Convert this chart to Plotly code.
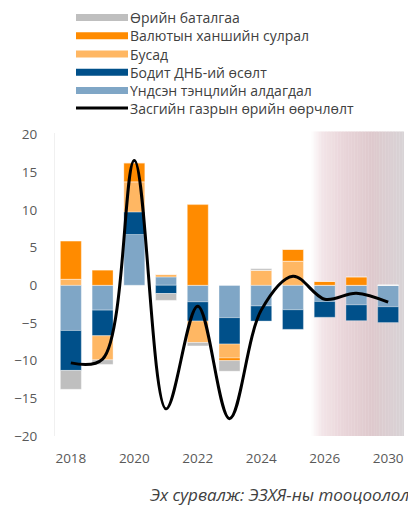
import plotly.graph_objects as go

years = ["2018", "2019", "2020", "2021", "2022", "2023", "2024", "2025", "2026", "2027", "2030"]

# Components (percentage points), stacked in this order from zero
undsen_tentsel = [-6.0, -3.3, 6.73, 1.1, -2.2, -4.3, -2.75, -3.25, -2.15, -2.6, -2.85]   # Үндсэн тэнцлийн алдагдал
bodit_dnb = [-5.3, -3.4, 3.0, -1.1, -2.55, -3.5, -2.0, -2.6, -2.1, -2.1, -2.1]           # Бодит ДНБ-ий өсөлт
busad_pos = [0.8, 0.0, 4.0, 0.35, 0.0, 0.0, 2.0, 3.2, 0.0, 0.0, 0.0]                     # Бусад (+)
busad_neg = [0.0, -3.2, 0.0, 0.0, -2.85, -1.85, 0.0, 0.0, 0.0, 0.0, 0.0]                 # Бусад (-)
valyut = [5.06, 2.0, 2.5, 0.0, 10.7, -0.35, 0.0, 1.55, 0.5, 1.1, 0.0]                    # Валютын ханшийн сулрал
oriin_batalgaa = [-2.5, -0.6, 0.0, -0.9, -0.45, -1.4, 0.2, 0.0, 0.0, 0.0, 0.0]          # Өрийн баталгаа

# Total change in government debt
debt_change = [-10.3, -9.8, 16.56, -16.4, -2.79, -17.7, -3.3, 1.2, -1.85, -1.05, -2.25]

names = ["Өрийн баталгаа", "Валютын ханшийн сулрал", "Бусад", "Бодит ДНБ-ий өсөлт",
         "Үндсэн тэнцлийн алдагдал", "Засгийн газрын өрийн өөрчлөлт"]

C_GRAY = "#bfbfbf"
C_ORANGE = "#ff8b00"
C_LORANGE = "#ffb763"
C_DBLUE = "#00508a"
C_LBLUE = "#7fa6c6"

# figure geometry (the page adds an 8px body margin)
W, H = 408, 501
ML, MR, MT, MB = 47, 12, 125, 73
PW, PH = W - ML - MR, H - MT - MB
def px(xp):  # figure pixel -> paper x
    return (xp - ML) / PW
def py(yp):  # figure pixel -> paper y
    return (H - MB - yp) / PH

fig = go.Figure()

# gradient shading for forecast period
stops = [(0.0, (255, 255, 255)), (0.12, (243, 229, 232)), (0.35, (233, 213, 217)),
         (0.65, (222, 201, 205)), (1.0, (216, 211, 214))]
def grad(t):
    for (t0, c0), (t1, c1) in zip(stops[:-1], stops[1:]):
        if t0 <= t <= t1:
            f = (t - t0) / (t1 - t0)
            return "rgb(%d,%d,%d)" % tuple(round(a + (b - a) * f) for a, b in zip(c0, c1))
    return "rgb(%d,%d,%d)" % stops[-1][1]

x0p, x1p = px(303), 1.0
N = 60
for i in range(N):
    a = x0p + (x1p - x0p) * i / N
    b = x0p + (x1p - x0p) * (i + 1) / N + 0.001
    fig.add_shape(type="rect", xref="paper", yref="paper", x0=a, x1=min(b, 1.0), y0=0, y1=1.005,
                  fillcolor=grad((i + 0.5) / N), line_width=0, layer="below")

bar_line = dict(width=0.6, color="rgba(255,255,255,0.55)")
for vals, col in [(undsen_tentsel, C_LBLUE), (bodit_dnb, C_DBLUE), (busad_pos, C_LORANGE),
                  (busad_neg, C_LORANGE), (valyut, C_ORANGE), (oriin_batalgaa, C_GRAY)]:
    fig.add_trace(go.Bar(x=years, y=vals, marker=dict(color=col, line=bar_line),
                         showlegend=False, hoverinfo="skip"))

fig.add_trace(go.Scatter(x=years, y=debt_change, mode="lines", name=names[5],
                         line=dict(color="black", width=3, shape="spline", smoothing=1.0),
                         showlegend=False))

# manual legend (symbols + real text)
leg_cols = [C_GRAY, C_ORANGE, C_LORANGE, C_DBLUE, C_LBLUE, "black"]
row_y = [9.6, 27.8, 46.0, 64.2, 82.4, 100.6]
for nm, col, yy in zip(names, leg_cols, row_y):
    if col == "black":
        fig.add_shape(type="line", xref="paper", yref="paper", x0=px(68), x1=px(120),
                      y0=py(yy - 0.7), y1=py(yy - 0.7), line=dict(color="black", width=3))
    else:
        fig.add_shape(type="rect", xref="paper", yref="paper", x0=px(68), x1=px(120),
                      y0=py(yy + 3.5), y1=py(yy - 3.5), fillcolor=col, line_width=0)
    fig.add_annotation(xref="paper", yref="paper", x=px(121), y=py(yy), xanchor="left",
                       yanchor="middle", text=nm, showarrow=False, borderpad=0,
                       font=dict(family="Open Sans", size=14, color="#404040"))

ann_font = dict(family="Open Sans", size=14, color="#404040")
fig.add_annotation(x=years[2], y=debt_change[2], text="16.56", showarrow=False,
                   xshift=38, yshift=-2, font=ann_font)
fig.add_annotation(x=years[2], y=undsen_tentsel[2], text="6.73", showarrow=False,
                   xshift=24, yshift=-27, font=ann_font)
fig.add_annotation(x=years[4], y=debt_change[4], text="-2.79", showarrow=False,
                   xshift=33, yshift=-2, font=ann_font)
fig.add_annotation(xref="paper", yref="paper", x=px(140), y=py(486), xanchor="left", yanchor="middle",
                   text="<i>Эх сурвалж: ЭЗХЯ-ны тооцоолол</i>", showarrow=False,
                   font=dict(family="Open Sans", size=17, color="#404040"))

fig.update_layout(
    width=W, height=H,
    margin=dict(l=ML, r=MR, t=MT, b=MB, autoexpand=False),
    paper_bgcolor="white", plot_bgcolor="rgba(0,0,0,0)",
    barmode="relative", bargap=0.34, showlegend=False,
    font=dict(family="Open Sans", size=14, color="#404040"),
    xaxis=dict(type="category", categoryorder="array", categoryarray=years,
               range=[-0.5, len(years) - 0.5], tickvals=years[::2], showgrid=False,
               zeroline=False, showline=False, ticks="", ticklabelstandoff=12,
               tickfont=dict(size=13.5, color="#595959")),
    yaxis=dict(range=[-20, 20.2], dtick=5, showgrid=False, zeroline=False,
               showline=True, linecolor="#f0f0f0", linewidth=1, ticks="",
               ticklabelstandoff=14, tickfont=dict(size=13.5, color="#595959")),
)

fig.write_html("out.html")
